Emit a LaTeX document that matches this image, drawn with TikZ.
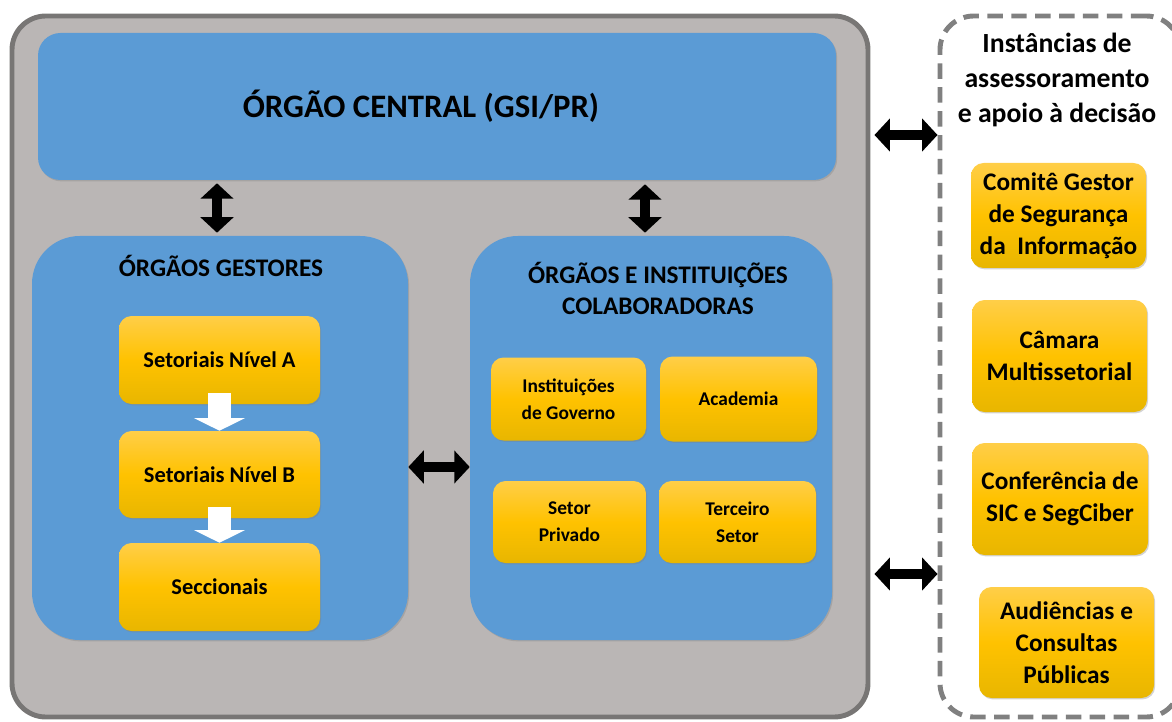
\documentclass[tikz,border=0pt]{standalone}
\usepackage{fontspec}
\setmainfont{Carlito}
\usetikzlibrary{positioning,calc,fit,arrows.meta,shadows}

\definecolor{frameFill}{RGB}{186,182,181}
\definecolor{frameLine}{RGB}{120,118,117}
\definecolor{panelBlue}{RGB}{91,155,213}
\definecolor{yelTop}{RGB}{255,206,72}
\definecolor{yelMid}{RGB}{255,194,0}
\definecolor{yelBot}{RGB}{232,182,0}
\definecolor{dashGrey}{RGB}{128,128,128}

\tikzset{
  boxsize/.style 2 args={minimum width=#1*0.025cm, minimum height=#2*0.025cm},
  frame/.style={fill=frameFill, draw=frameLine, line width=3.5pt, rounded corners=24pt, inner sep=0pt},
  panel/.style={fill=panelBlue, inner sep=0pt,
    drop shadow={opacity=0.35, shadow xshift=0.8pt, shadow yshift=-1pt}},
  yelbox/.style={top color=yelTop, bottom color=yelBot, middle color=yelMid,
    rounded corners=9pt, inner sep=0pt, align=center,
    font=\bfseries\fontsize{16}{20}\selectfont,
    drop shadow={opacity=0.35, shadow xshift=0.8pt, shadow yshift=-1pt}},
  smallyel/.style={yelbox, font=\bfseries\fontsize{13.8}{19}\selectfont},
  sideyel/.style={yelbox, font=\bfseries\fontsize{18}{22.7}\selectfont},
  title/.style={font=\bfseries\fontsize{18}{22}\selectfont, align=center},
  dblarrow/.style={line width=7pt, {Triangle[width=23pt,length=11pt]}-{Triangle[width=23pt,length=11pt]}},
  flowarrow/.style={line width=17pt, draw=white, -{Triangle[width=36pt,length=9pt]},
    shorten <=-8pt}
}

\begin{document}
\begin{tikzpicture}[x=0.025cm, y=-0.025cm]
  \useasboundingbox (0,0) rectangle (1172,722);

  % outer grey frame and dashed side box
  \node[frame, fit={(12,16) (868,717)}] (frame) {};
  \node[draw=dashGrey, line width=3.5pt, dash pattern=on 11pt off 6pt,
        rounded corners=24pt, inner sep=0pt, fit={(940,16) (1180,717)}] (side) {};

  % central organ
  \node[panel, rounded corners=16pt, boxsize={798}{147},
        font=\bfseries\fontsize{23.3}{28}\selectfont] (central) at (437,106.5)
    {ÓRGÃO CENTRAL (GSI/PR)\hspace*{0.8cm}};

  % managing organs
  \node[panel, rounded corners=34pt, boxsize={376}{404}] (gest) at (220,438) {};
  \node[title] (gestT) at (221,266) {ÓRGÃOS GESTORES};
  \node[yelbox, boxsize={201}{88}] (nivA) at (219.5,360) {Setoriais Nível A};
  \node[yelbox, boxsize={201}{87}] (nivB) at (219.5,474.5) {Setoriais Nível B};
  \node[yelbox, boxsize={201}{88}] (secc) at (219.5,587) {Seccionais};
  \draw[flowarrow] (nivA.south) -- (nivB.north);
  \draw[flowarrow] (nivB.south) -- (secc.north);

  % collaborating organs
  \node[panel, rounded corners=34pt, boxsize={362}{404}] (colab) at (651,438) {};
  \node[title] (colabT) at (658,288) {ÓRGÃOS E INSTITUIÇÕES\\COLABORADORAS};
  \node[smallyel, boxsize={155}{83}] (gov) at (568.5,399) {Instituições\\de Governo};
  \node[smallyel, boxsize={157}{85}] (acad) at (738.5,399) {Academia};
  \node[smallyel, boxsize={153}{82}] (priv) at (569.5,522) {Setor\\Privado};
  \node[smallyel, boxsize={157}{82}] (terc) at (737.5,522) {Terceiro\\Setor};

  % advisory bodies
  \node[font=\bfseries\fontsize{19.7}{24.8}\selectfont, align=center] (sideT) at (1057,80)
    {Instâncias de\\assessoramento\\e apoio à decisão};
  \node[sideyel, boxsize={175}{105}] (comite) at (1058.5,215.5) {Comitê Gestor\\de Segurança\\da~~Informação};
  \node[sideyel, boxsize={175}{112}] (camara) at (1059.5,356) {Câmara\\Multissetorial};
  \node[sideyel, boxsize={176}{112}] (conf) at (1060,499) {Conferência de\\SIC e SegCiber};
  \node[sideyel, boxsize={175}{111}] (audi) at (1066.5,642.5) {Audiências e\\Consultas\\Públicas};

  % links
  \draw[dblarrow] ($(central.south -| gest.north)+(-3,3)$) -- ($(gest.north)+(-3,-3)$);
  \draw[dblarrow] ($(central.south -| colab.north)+(-6,4)$) -- ($(colab.north)+(-6,-3)$);
  \draw[dblarrow] ($(gest.east)+(0,29)$) -- ($(colab.west)+(0,29)$);
  \draw[dblarrow] (frame.east |- 0,135) ++(4,0) coordinate (fa) -- (fa -| side.west);
  \draw[dblarrow] (frame.east |- 0,574) ++(4,0) coordinate (fb) -- (fb -| side.west);
\end{tikzpicture}
\end{document}
